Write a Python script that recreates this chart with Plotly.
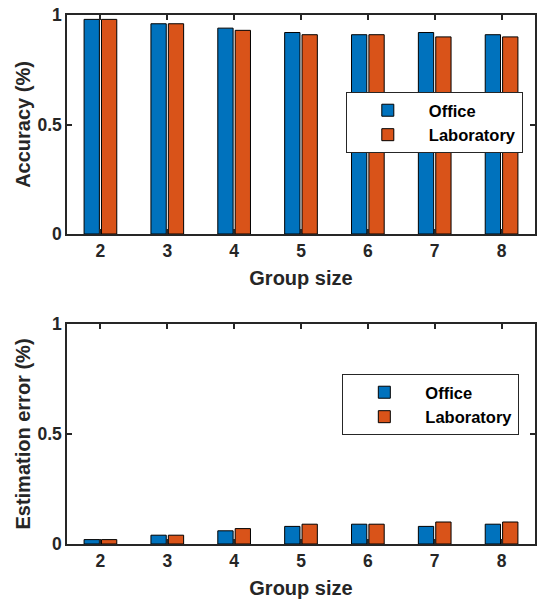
import plotly.graph_objects as go
from plotly.subplots import make_subplots

group_size = [2, 3, 4, 5, 6, 7, 8]
acc_office = [0.98, 0.96, 0.94, 0.92, 0.91, 0.92, 0.91]
acc_lab = [0.98, 0.96, 0.93, 0.91, 0.91, 0.90, 0.90]
err_office = [0.02, 0.04, 0.06, 0.08, 0.09, 0.08, 0.09]
err_lab = [0.02, 0.04, 0.07, 0.09, 0.09, 0.10, 0.10]

C_OFFICE = "#0072BD"
C_LAB = "#D95319"
INK = "#262626"
FONT = "Liberation Sans"

fig = make_subplots(rows=2, cols=1, vertical_spacing=0.17)

fig.add_trace(go.Bar(x=group_size, y=acc_office, name="Office",
                     marker=dict(color=C_OFFICE, line=dict(color="black", width=1)),
                     legend="legend"), row=1, col=1)
fig.add_trace(go.Bar(x=group_size, y=acc_lab, name="Laboratory",
                     marker=dict(color=C_LAB, line=dict(color="black", width=1)),
                     legend="legend"), row=1, col=1)
fig.add_trace(go.Bar(x=group_size, y=err_office, name="Office",
                     marker=dict(color=C_OFFICE, line=dict(color="black", width=1)),
                     legend="legend2"), row=2, col=1)
fig.add_trace(go.Bar(x=group_size, y=err_lab, name="Laboratory",
                     marker=dict(color=C_LAB, line=dict(color="black", width=1)),
                     legend="legend2"), row=2, col=1)

top_dom = [(544 - 234) / 529, 1.0]
bot_dom = [0.0, (544 - 324) / 529]

axis_common = dict(showline=True, linecolor=INK, linewidth=1.5, mirror="ticks",
                   ticks="inside", ticklen=5, tickwidth=1.5, tickcolor=INK,
                   showgrid=False, zeroline=False,
                   tickfont=dict(family=FONT, size=17.5, color=INK, weight="bold"))

for r, dom, title in [(1, top_dom, "Accuracy (%)"), (2, bot_dom, "Estimation error (%)")]:
    fig.update_xaxes(range=[1.5, 8.5], tickvals=group_size, ticktext=[str(g) for g in group_size],
                     title=dict(text="Group size", standoff=11,
                                font=dict(family=FONT, size=20, color=INK, weight="bold")),
                     row=r, col=1, **axis_common)
    fig.update_yaxes(range=[0, 1], tickvals=[0, 0.5, 1], ticktext=["0", "0.5", "1"], domain=dom,
                     title=dict(text=title, standoff=1,
                                font=dict(family=FONT, size=20, color=INK, weight="bold")),
                     row=r, col=1, **axis_common)

legend_common = dict(bgcolor="white", bordercolor=INK, borderwidth=1,
                     font=dict(family=FONT, size=16.5, color="black", weight="bold"),
                     xanchor="left", yanchor="top", tracegroupgap=0, itemwidth=72)

fig.update_layout(
    width=538, height=600,
    margin=dict(l=67, r=1, t=15, b=56),
    paper_bgcolor="white", plot_bgcolor="white",
    barmode="group", bargap=0.48, bargroupgap=0.12,
    legend=dict(x=(347 - 67) / 470, y=(544 - 92) / 529, **legend_common),
    legend2=dict(x=(343.5 - 67) / 470, y=(544 - 374) / 529, **legend_common),
)

fig.write_html("out.html")
